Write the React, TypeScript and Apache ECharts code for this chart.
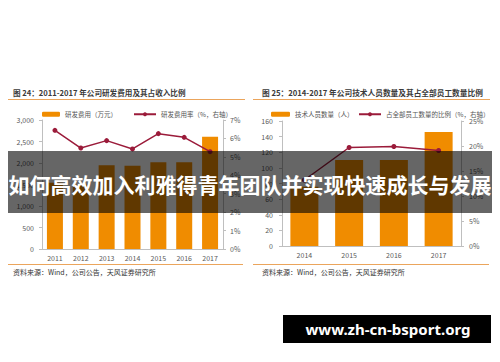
import React, { useEffect, useRef } from "react";
import * as echarts from "echarts";

const years1 = ["2011", "2012", "2013", "2014", "2015", "2016", "2017"];
const rdExpense = [1540, 1500, 1950, 1935, 2015, 2020, 2610];
const rdRatio = [6.44, 5.48, 5.88, 5.43, 6.26, 6.06, 5.28];

const years2 = ["2014", "2015", "2016", "2017"];
const techStaff = [76, 110, 110, 146];
const staffRatio = [13.2, 19.7, 19.9, 19.1];

const title1 = "图 24：2011-2017 年公司研发费用及其占收入比例";
const title2 = "图 25：2014-2017 年公司技术人员数量及其占全部员工数量比例";
const source = "资料来源：Wind，公司公告，天风证券研究所";
const bannerText = "如何高效加入利雅得青年团队并实现快速成长与发展";
const watermark = "www.zh-cn-bsport.org";

const ORANGE = "#F08C00";
const MAROON = "#9B1B3A";
const AXIS = "#bfbfbf";
const LABEL = "#595959";
const FONT = "Noto Sans CJK SC";

export default function App() {
  const ref = useRef<HTMLDivElement>(null);
  useEffect(() => {
    document.body.style.margin = "0";
    const chart = echarts.init(ref.current!, null, { renderer: "svg" });
    const axisLabel = { fontSize: 7, color: LABEL, fontFamily: FONT };
    const legendText = { fontSize: 6.5, color: "#555", fontFamily: FONT };
    const yBase = (gridIndex: number, pos: string, min: number, max: number, interval: number, fmt: any, margin: number) => ({
      type: "value",
      gridIndex,
      position: pos,
      min,
      max,
      interval,
      splitLine: { show: false },
      axisLine: { show: true, lineStyle: { color: AXIS } },
      axisTick: { show: true, length: 3, lineStyle: { color: AXIS } },
      axisLabel: { ...axisLabel, formatter: fmt, margin },
    });
    chart.setOption({
      animation: false,
      backgroundColor: "#ffffff",
      textStyle: { fontFamily: FONT },
      grid: [
        { left: 42, right: 277, top: 120, bottom: 113 },
        { left: 282, right: 39, top: 121, bottom: 116 },
      ],
      legend: [
        { left: 37, top: 106, itemWidth: 18, itemHeight: 5, textStyle: legendText, data: ["研发费用（万元）"], itemGap: 0 },
        { left: 128, top: 106, itemWidth: 22, itemHeight: 5, textStyle: legendText, data: ["研发费用率（%，右轴）"] },
        { left: 266, top: 106, itemWidth: 19, itemHeight: 5, textStyle: legendText, data: ["技术人员数量（人）"] },
        { left: 353, top: 106, itemWidth: 22, itemHeight: 5, textStyle: legendText, data: ["占全部员工数量的比例（%，右轴）"] },
      ],
      xAxis: [
        {
          type: "category",
          gridIndex: 0,
          data: years1,
          axisLine: { lineStyle: { color: AXIS } },
          axisTick: { show: false },
          axisLabel: { ...axisLabel, margin: 5 },
        },
        {
          type: "category",
          gridIndex: 1,
          data: years2,
          axisLine: { lineStyle: { color: AXIS } },
          axisTick: { show: false },
          axisLabel: { ...axisLabel, margin: 5 },
        },
      ],
      yAxis: [
        yBase(0, "left", 0, 3000, 500, (v: number) => v.toLocaleString("en-US"), 8),
        yBase(0, "right", 0, 7, 1, (v: number) => v + "%", 7),
        yBase(1, "left", 0, 160, 20, (v: number) => String(v), 9),
        yBase(1, "right", 0, 25, 5, (v: number) => v + "%", 8),
      ],
      series: [
        {
          name: "研发费用（万元）",
          type: "bar",
          xAxisIndex: 0,
          yAxisIndex: 0,
          data: rdExpense,
          barWidth: 16,
          itemStyle: { color: ORANGE },
        },
        {
          name: "研发费用率（%，右轴）",
          type: "line",
          xAxisIndex: 0,
          yAxisIndex: 1,
          data: rdRatio,
          symbol: "circle",
          symbolSize: 5,
          lineStyle: { color: MAROON, width: 1.5 },
          itemStyle: { color: MAROON },
        },
        {
          name: "技术人员数量（人）",
          type: "bar",
          xAxisIndex: 1,
          yAxisIndex: 2,
          data: techStaff,
          barWidth: 28,
          itemStyle: { color: ORANGE },
        },
        {
          name: "占全部员工数量的比例（%，右轴）",
          type: "line",
          xAxisIndex: 1,
          yAxisIndex: 3,
          data: staffRatio,
          symbol: "circle",
          symbolSize: 5,
          lineStyle: { color: MAROON, width: 1.5 },
          itemStyle: { color: MAROON },
        },
      ],
      graphic: [
        { type: "text", x: 13, y: 92, z: 10, style: { text: title1, fontSize: 7.6, fontWeight: "bold", fill: "#3a3a3a", fontFamily: FONT, verticalAlign: "middle" } },
        { type: "text", x: 262, y: 92, z: 10, style: { text: title2, fontSize: 7.7, fontWeight: "bold", fill: "#3a3a3a", fontFamily: FONT, verticalAlign: "middle" } },
        { type: "line", z: 10, shape: { x1: 8, y1: 99.5, x2: 245, y2: 99.5 }, style: { stroke: "#EBA55C", lineWidth: 1 } },
        { type: "line", z: 10, shape: { x1: 253, y1: 99.5, x2: 490, y2: 99.5 }, style: { stroke: "#EBA55C", lineWidth: 1 } },
        { type: "line", z: 10, shape: { x1: 8, y1: 264.5, x2: 243, y2: 264.5 }, style: { stroke: "#EBA55C", lineWidth: 1 } },
        { type: "line", z: 10, shape: { x1: 253, y1: 264.5, x2: 489, y2: 264.5 }, style: { stroke: "#EBA55C", lineWidth: 1 } },
        { type: "text", x: 13, y: 272, z: 10, style: { text: source, fontSize: 7, fill: "#333", fontFamily: FONT, verticalAlign: "middle" } },
        { type: "text", x: 262, y: 272, z: 10, style: { text: source, fontSize: 7, fill: "#333", fontFamily: FONT, verticalAlign: "middle" } },
        { type: "rect", z: 100, shape: { x: 8, y: 151, width: 484, height: 62 }, style: { fill: "rgba(0,0,0,0.6)" } },
        { type: "text", x: 250, y: 184, z: 101, style: { text: bannerText, fontSize: 21, fontWeight: "bold", fill: "#ffffff", fontFamily: FONT, align: "center", verticalAlign: "middle" } },
        { type: "rect", z: 100, shape: { x: 283, y: 315, width: 208, height: 28 }, style: { fill: "#000000" } },
        { type: "text", x: 388, y: 329, z: 101, style: { text: watermark, fontSize: 15, fontWeight: "bold", fill: "#ffffff", fontFamily: "Noto Sans", align: "center", verticalAlign: "middle" } },
      ],
    });
    return () => chart.dispose();
  }, []);
  return <div ref={ref} style={{ width: 500, height: 362 }} />;
}
